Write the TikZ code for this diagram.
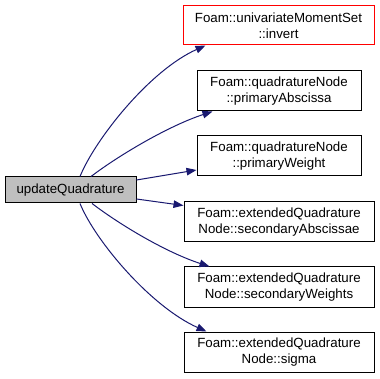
\documentclass[tikz,border=0pt]{standalone}
\usepackage{fontspec}
\setmainfont{Liberation Sans}
\usetikzlibrary{arrows.meta}
\definecolor{edgeblue}{HTML}{191970}
\definecolor{rootgray}{HTML}{BFBFBF}
\tikzset{
  fn/.style={draw=black, line width=1pt, fill=white, rectangle, align=center,
    inner sep=0pt, font=\fontsize{13.3}{16}\selectfont, text=black},
  call/.style={draw=edgeblue, line width=1pt,
    -{Triangle[length=10pt,width=7.5pt,fill=edgeblue]}},
}
\begin{document}
\begin{tikzpicture}[x=1pt,y=-1pt]
\useasboundingbox (0,0) rectangle (380,379);
\node[fn, fill=rootgray, minimum width=131pt, minimum height=26pt] (root) at (70.5,190) {updateQuadrature};
\node[fn, draw=red, minimum width=191pt, minimum height=39pt] (inv) at (278.5,25.5) {Foam::univariateMomentSet\\::invert};
\node[fn, minimum width=164pt, minimum height=40pt] (pa) at (279,91) {Foam::quadratureNode\\::primaryAbscissa};
\node[fn, minimum width=164pt, minimum height=40pt] (pw) at (279,156) {Foam::quadratureNode\\::primaryWeight};
\node[fn, minimum width=190pt, minimum height=40pt] (sa) at (279,222) {Foam::extendedQuadrature\\Node::secondaryAbscissae};
\node[fn, minimum width=190pt, minimum height=40pt] (sw) at (279,287) {Foam::extendedQuadrature\\Node::secondaryWeights};
\node[fn, minimum width=190pt, minimum height=40pt] (sg) at (279,352) {Foam::extendedQuadrature\\Node::sigma};

\draw[call] ([xshift=9.5pt]root.north) .. controls +(15,-37) and +(-56,25) .. ([xshift=23pt]inv.south west);
\draw[call] ([xshift=20.5pt]root.north) .. controls +(29,-22) and +(-43,14) .. ([xshift=16pt]pa.south west);
\draw[call] ([yshift=10pt]root.east) -- ([yshift=-14pt]pw.west);
\draw[call] ([yshift=-9pt]root.east) -- ([yshift=-4pt]sa.north west);
\draw[call] ([xshift=21.5pt]root.south) .. controls +(29,22) and +(-43,-14) .. ([xshift=26pt]sw.north west);
\draw[call] ([xshift=9.5pt]root.south) .. controls +(15,37) and +(-56,-25) .. ([xshift=23pt]sg.north west);
\end{tikzpicture}
\end{document}
